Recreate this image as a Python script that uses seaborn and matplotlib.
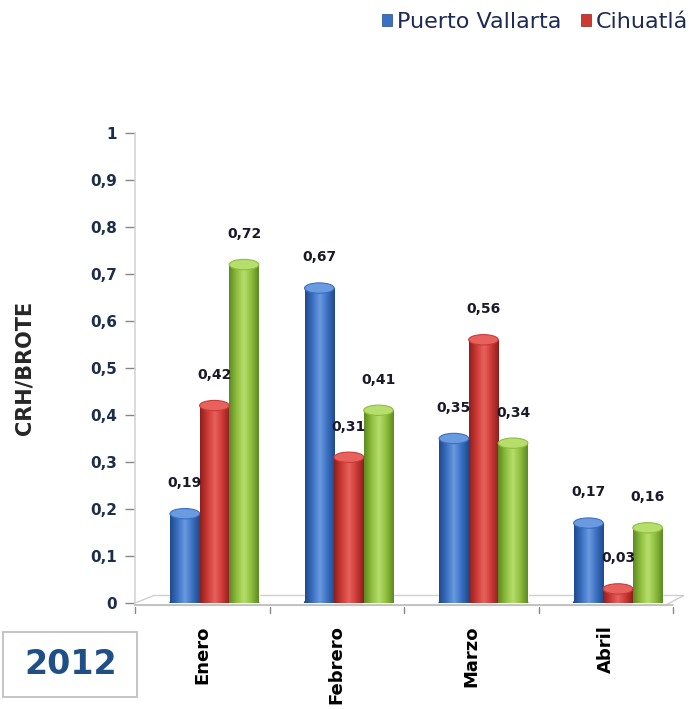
import numpy as np
import pandas as pd
import matplotlib
matplotlib.use("Agg")
import matplotlib.pyplot as plt
import seaborn as sns
from matplotlib.patches import Ellipse, Polygon, Rectangle
from matplotlib.colors import LinearSegmentedColormap

months = ["Enero", "Febrero", "Marzo", "Abril"]
series = ["Puerto Vallarta", "Cihuatlán", "Tomatlán"]
vals_pv = [0.19, 0.67, 0.35, 0.17]
vals_ci = [0.42, 0.31, 0.56, 0.03]
vals_to = [0.72, 0.41, 0.34, 0.16]
yticks = [0, 0.1, 0.2, 0.3, 0.4, 0.5, 0.6, 0.7, 0.8, 0.9, 1]
ytick_labels = ["0", "0,1", "0,2", "0,3", "0,4", "0,5", "0,6", "0,7", "0,8", "0,9", "1"]

df = pd.DataFrame({
    "mes": months * 3,
    "serie": [series[0]] * 4 + [series[1]] * 4 + [series[2]] * 4,
    "valor": vals_pv + vals_ci + vals_to,
})

colors = ["#3b70c2", "#cc3a36", "#8fbe3e"]
dark = ["#1f4a8c", "#8e1f1c", "#5d8a22"]
light = ["#6a9ae0", "#e8625d", "#b6de6c"]

sns.set_style("white")
plt.rcParams["font.family"] = ["DejaVu Sans"]

fig = plt.figure(figsize=(6.89, 7.09), dpi=100)
ax = fig.add_axes([0.196, 0.1495, 0.781, 0.663])

sns.barplot(data=df, x="mes", y="valor", hue="serie", palette=colors,
            width=0.66, ax=ax, legend=False, saturation=1)

shift = 0.09
cap_h = 0.022
for si, cont in enumerate(ax.containers):
    for bar in cont:
        x0 = bar.get_x(); w = bar.get_width(); h = bar.get_height()
        cmap = LinearSegmentedColormap.from_list("c", [dark[si], colors[si], light[si], colors[si], dark[si]])
        grad = np.linspace(0, 1, 64).reshape(1, -1)
        im = ax.imshow(grad, extent=[x0, x0 + w, 0, h], aspect="auto", cmap=cmap,
                       zorder=3, origin="lower")
        im.set_clip_path(bar)
        bar.set_zorder(2)
        ax.add_patch(Ellipse((x0 + w / 2, 0), w, cap_h, color=dark[si], zorder=2.9))
        ax.add_patch(Ellipse((x0 + w / 2, h), w, cap_h, facecolor=light[si],
                             edgecolor=colors[si], lw=0.8, zorder=4))
        ax.annotate(f"{h:.2f}".replace(".", ","), (x0 + w / 2, h), xytext=(0, 17),
                    textcoords="offset points", ha="center", va="bottom",
                    fontsize=10, fontweight="bold", color="#1a1a2a", zorder=5)

ax.set_xlim(-0.5 - shift, 3.5 - shift)
ax.set_ylim(0, 1)

for s in ["top", "right", "bottom"]:
    ax.spines[s].set_visible(False)
ax.spines["left"].set_color("#d4d4d4")
ax.spines["left"].set_linewidth(1.2)

ax.set_yticks(yticks)
ax.set_yticklabels(ytick_labels, fontsize=11, fontweight="bold", color="#1c2f4a")
ax.tick_params(axis="y", direction="out", length=7, color="#888888", width=1, left=True, pad=6)

ax.set_xticks([i - shift for i in range(4)])
ax.set_xticklabels(months, rotation=90, fontsize=13, fontweight="bold", color="black")
ax.tick_params(axis="x", length=0, pad=16)
for b in np.arange(-0.5, 4, 1.0):
    ax.plot([b - shift, b - shift], [-0.008, -0.022], color="#888888", lw=1, clip_on=False)

ax.set_xlabel("")
ax.set_ylabel("CRH/BROTE", fontsize=15, fontweight="bold", labelpad=40)

floor = Polygon([[0, 0], [0.035, 0.016], [1.02, 0.016], [0.985, -0.005], [0, -0.005]],
                closed=True, transform=ax.transAxes, facecolor="white",
                edgecolor="#cfcfcf", lw=1, clip_on=False, zorder=1)
ax.add_patch(floor)
ax.plot([0, 1.0], [-0.005, -0.005], transform=ax.transAxes, color="#bdbdbd", lw=1.2, clip_on=False)

# legend (cut off at the right edge, as in the reference)
handles = [Rectangle((0, 0), 1, 1, facecolor=c, edgecolor=d, lw=0.5) for c, d in zip(colors, dark)]
leg = fig.legend(handles, series, loc="center left", bbox_to_anchor=(0.526, 0.969),
                 ncol=3, frameon=False, fontsize=16, handlelength=0.45, handleheight=0.45,
                 handletextpad=0.2, columnspacing=0.9)
for t in leg.get_texts():
    t.set_color("#1c2a55")

# year box
fig.patches.append(Rectangle((3 / 689, 12 / 709), 134 / 689, 65 / 709, transform=fig.transFigure,
                             facecolor="white", edgecolor="#bfbfbf", lw=1.3))
fig.text(71 / 689, 44 / 709, "2012", ha="center", va="center", fontsize=24, fontweight="bold",
         color="#1f4f86")

fig.savefig("out.png", dpi=100)
